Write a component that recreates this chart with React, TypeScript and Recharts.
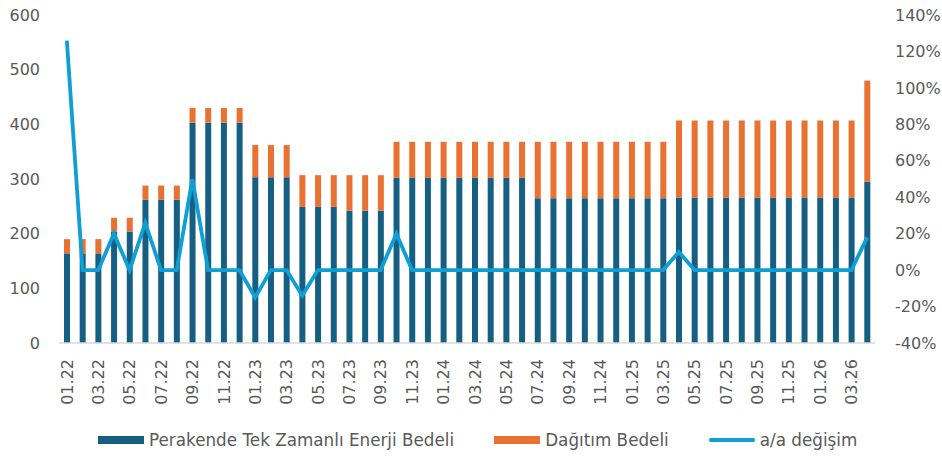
import { ComposedChart, Bar, Line, XAxis, YAxis } from 'recharts'

const months = [
  '01.22', '02.22', '03.22', '04.22', '05.22', '06.22', '07.22', '08.22', '09.22', '10.22', '11.22', '12.22',
  '01.23', '02.23', '03.23', '04.23', '05.23', '06.23', '07.23', '08.23', '09.23', '10.23', '11.23', '12.23',
  '01.24', '02.24', '03.24', '04.24', '05.24', '06.24', '07.24', '08.24', '09.24', '10.24', '11.24', '12.24',
  '01.25', '02.25', '03.25', '04.25', '05.25', '06.25', '07.25', '08.25', '09.25', '10.25', '11.25', '12.25',
  '01.26', '02.26', '03.26', '04.26',
]

// Perakende Tek Zamanlı Enerji Bedeli
const energy = [
  164, 164, 164, 204, 204, 262, 262, 262, 403, 403, 403, 403,
  303, 303, 303, 249, 249, 249, 242, 242, 242, 302, 302, 302,
  302, 302, 302, 302, 302, 302, 265, 265, 265, 265, 265, 265,
  265, 265, 265, 266, 266, 266, 266, 266, 266, 266, 266, 266,
  266, 266, 266, 295,
]

// Dağıtım Bedeli
const distribution = [
  26, 26, 26, 25, 25, 26, 26, 26, 27, 27, 27, 27,
  59, 59, 59, 58, 58, 58, 65, 65, 65, 66, 66, 66,
  66, 66, 66, 66, 66, 66, 103, 103, 103, 103, 103, 103,
  103, 103, 103, 141, 141, 141, 141, 141, 141, 141, 141, 141,
  141, 141, 141, 185,
]

// a/a değişim (%)
const change = [
  126, 0, 0, 20, 0, 26, 0, 0, 50, 0, 0, 0,
  -15, 0, 0, -14, 0, 0, 0, 0, 0, 20, 0, 0,
  0, 0, 0, 0, 0, 0, 0, 0, 0, 0, 0, 0,
  0, 0, 0, 10, 0, 0, 0, 0, 0, 0, 0, 0,
  0, 0, 0, 18,
]

const leftTicks = [0, 100, 200, 300, 400, 500, 600]
const rightTicks = [-40, -20, 0, 20, 40, 60, 80, 100, 120, 140]

const data = months.map((m, i) => ({
  month: m,
  energy: energy[i],
  distribution: distribution[i],
  change: change[i],
}))

const FONT = '"DejaVu Sans", sans-serif'
const TEXT = '#595959'
const DARK = '#156082'
const ORANGE = '#E97132'
const LINE = '#0F9ED5'

const MonthTick = ({ x, y, payload }: { x?: number; y?: number; payload?: { value: string } }) => (
  <text
    x={x}
    y={y}
    transform={`rotate(-90, ${x}, ${y})`}
    textAnchor="end"
    dy="0.36em"
    fill={TEXT}
    fontSize={16}
    fontFamily={FONT}
  >
    {payload?.value}
  </text>
)

const legendItems = [
  { label: 'Perakende Tek Zamanlı Enerji Bedeli', color: DARK, line: false },
  { label: 'Dağıtım Bedeli', color: ORANGE, line: false },
  { label: 'a/a değişim', color: LINE, line: true },
]

export default function App() {
  return (
    <div style={{ position: 'absolute', left: 0, top: 0, width: 942, height: 457, background: '#fff' }}>
      <ComposedChart
        width={942}
        height={457}
        data={data}
        margin={{ top: 15, right: 0, left: 0, bottom: 64 }}
      >
        <XAxis
          dataKey="month"
          interval={1}
          tick={<MonthTick />}
          tickLine={false}
          tickSize={0}
          tickMargin={16}
          height={50}
          axisLine={{ stroke: '#D9D9D9', strokeWidth: 1.5 }}
        />
        <YAxis
          yAxisId="left"
          domain={[0, 600]}
          ticks={leftTicks}
          width={59}
          axisLine={false}
          tickLine={false}
          tickSize={0}
          tickMargin={19}
          tick={{ fill: TEXT, fontSize: 16, fontFamily: FONT }}
        />
        <YAxis
          yAxisId="right"
          orientation="right"
          domain={[-40, 140]}
          ticks={rightTicks}
          width={67}
          axisLine={false}
          tickLine={false}
          tickSize={0}
          tickMargin={20}
          tickFormatter={(v: number) => `${v}%`}
          tick={{ fill: TEXT, fontSize: 16, fontFamily: FONT }}
        />
        <Bar yAxisId="left" dataKey="energy" stackId="a" fill={DARK} barSize={6} isAnimationActive={false} />
        <Bar yAxisId="left" dataKey="distribution" stackId="a" fill={ORANGE} barSize={6} isAnimationActive={false} />
        <Line
          yAxisId="right"
          dataKey="change"
          stroke={LINE}
          strokeWidth={3.8}
          dot={false}
          type="linear"
          isAnimationActive={false}
        />
      </ComposedChart>
      <div
        style={{
          position: 'absolute', left: 98, top: 430, display: 'flex', alignItems: 'center',
          gap: 40, fontFamily: FONT, fontSize: 16.8, color: TEXT, whiteSpace: 'nowrap',
        }}
      >
        {legendItems.map(item => (
          <div key={item.label} style={{ display: 'flex', alignItems: 'center', gap: 5 }}>
            <span
              style={{
                display: 'inline-block', width: 46, height: item.line ? 4 : 8,
                background: item.color, borderRadius: item.line ? 2 : 0,
              }}
            />
            <span>{item.label}</span>
          </div>
        ))}
      </div>
    </div>
  )
}
